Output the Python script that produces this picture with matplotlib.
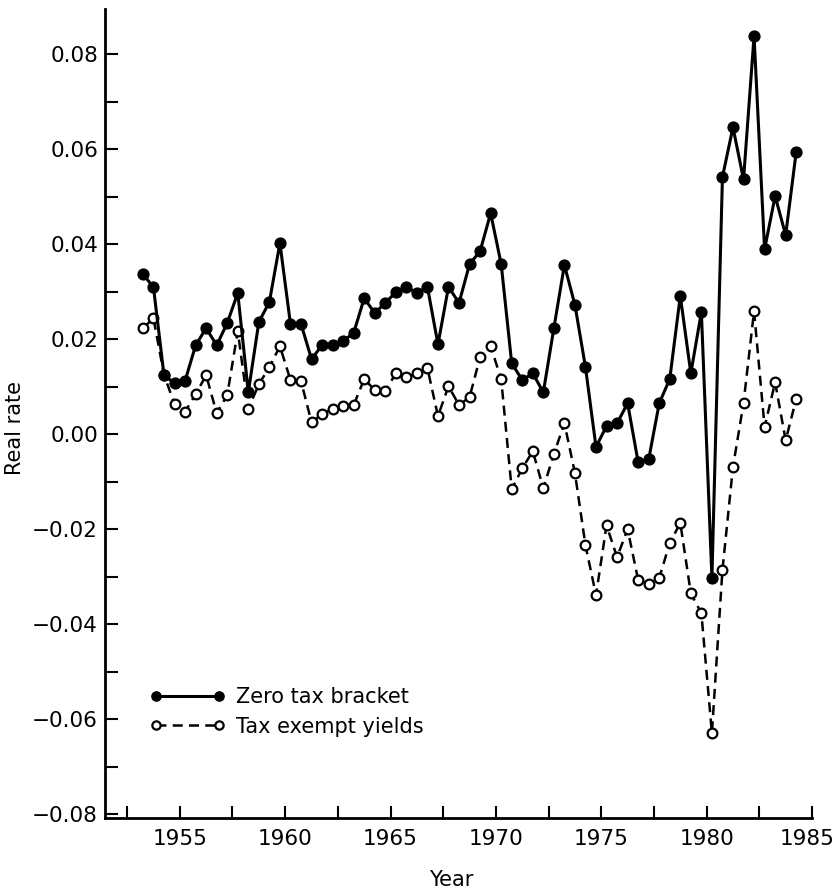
import numpy as np
import matplotlib
matplotlib.use("Agg")
import matplotlib.pyplot as plt
import matplotlib.transforms as mtransforms
from matplotlib.ticker import MultipleLocator

# semi-annual observations, 1953 to 1984
years = np.arange(1953.25, 1984.5, 0.5)

# real rate, zero tax bracket
zero_tax = [0.0337, 0.0309, 0.0124, 0.0107, 0.0112, 0.0187, 0.0223, 0.0187, 0.0234, 0.0297,
            0.0088, 0.0236, 0.0278, 0.0402, 0.0232, 0.0232, 0.0158, 0.0187, 0.0187, 0.0196,
            0.0213, 0.0286, 0.0255, 0.0276, 0.0299, 0.0310, 0.0297, 0.0310, 0.0189, 0.0310,
            0.0276, 0.0358, 0.0385, 0.0465, 0.0358, 0.0149, 0.0114, 0.0128, 0.0088, 0.0223,
            0.0356, 0.0272, 0.0141, -0.0027, 0.0017, 0.0023, 0.0065, -0.0059, -0.0053, 0.0065,
            0.0116, 0.0291, 0.0128, 0.0257, -0.0303, 0.0541, 0.0646, 0.0536, 0.0838, 0.0389,
            0.0501, 0.0419, 0.0594]

# real rate, tax exempt yields
tax_exempt = [0.0223, 0.0244, 0.0125, 0.0063, 0.0047, 0.0084, 0.0124, 0.0044, 0.0082, 0.0217,
              0.0053, 0.0105, 0.0141, 0.0185, 0.0114, 0.0112, 0.0025, 0.0042, 0.0053, 0.0059,
              0.0061, 0.0116, 0.0093, 0.0091, 0.0128, 0.0120, 0.0128, 0.0139, 0.0038, 0.0101,
              0.0061, 0.0078, 0.0162, 0.0185, 0.0116, -0.0116, -0.0072, -0.0036, -0.0114, -0.0042,
              0.0023, -0.0082, -0.0234, -0.0339, -0.0192, -0.0259, -0.0200, -0.0307, -0.0316, -0.0303,
              -0.0229, -0.0187, -0.0335, -0.0377, -0.0629, -0.0286, -0.0069, 0.0065, 0.0259, 0.0015,
              0.0109, -0.0013, 0.0074]

x_ticks = [1955, 1960, 1965, 1970, 1975, 1980, 1985]
y_ticks = [-0.08, -0.06, -0.04, -0.02, 0.0, 0.02, 0.04, 0.06, 0.08]
y_labels = ['\u22120.08', '\u22120.06', '\u22120.04', '\u22120.02', '0.00',
            '0.02', '0.04', '0.06', '0.08']

plt.rcParams['font.family'] = ['DejaVu Sans']

fig = plt.figure(figsize=(8.36, 8.94), dpi=100)
ax = fig.add_axes([0.1256, 0.085, 0.8457, 0.905])

ax.plot(years, zero_tax, color='black', linestyle='-', linewidth=2.2,
        marker='o', markersize=7.8, markerfacecolor='black', markeredgecolor='black',
        label='Zero tax bracket', zorder=3)
ax.plot(years, tax_exempt, color='black', linestyle=(0, (4, 2.5)), linewidth=1.8,
        marker='o', markersize=7, markerfacecolor='white', markeredgecolor='black',
        markeredgewidth=1.6, label='Tax exempt yields', zorder=2)

ax.set_xlim(1951.45, 1985)
ax.set_ylim(-0.0808, 0.0895)

ax.xaxis.set_minor_locator(MultipleLocator(2.5))
ax.yaxis.set_minor_locator(MultipleLocator(0.01))
ax.set_xticks(x_ticks)
ax.set_yticks(y_ticks)
ax.set_yticklabels(y_labels)

ax.tick_params(which='both', direction='in', length=9, width=1.5, labelsize=15.5)
ax.tick_params(axis='x', pad=8)
ax.tick_params(axis='y', pad=5)

# nudge the last year label a little inward, as in the original
last = ax.get_xticklabels()[-1]
last.set_transform(last.get_transform() +
                   mtransforms.ScaledTranslation(-5 / 100, 0, fig.dpi_scale_trans))

for side in ['top', 'right']:
    ax.spines[side].set_visible(False)
for side in ['left', 'bottom']:
    ax.spines[side].set_linewidth(2)

ax.set_xlabel('Year', fontsize=15)
ax.xaxis.set_label_coords(0.49, -0.064)
ax.set_ylabel('Real rate', fontsize=15)
ax.yaxis.set_label_coords(-0.113, 0.482)

ax.legend(loc='center left', bbox_to_anchor=(0.064, 0.131), frameon=False,
          fontsize=15, handlelength=3.6, handletextpad=0.5, labelspacing=0.45,
          borderpad=0, borderaxespad=0, markerscale=0.85, numpoints=2)

plt.savefig('out.png', dpi=100)
plt.close()
